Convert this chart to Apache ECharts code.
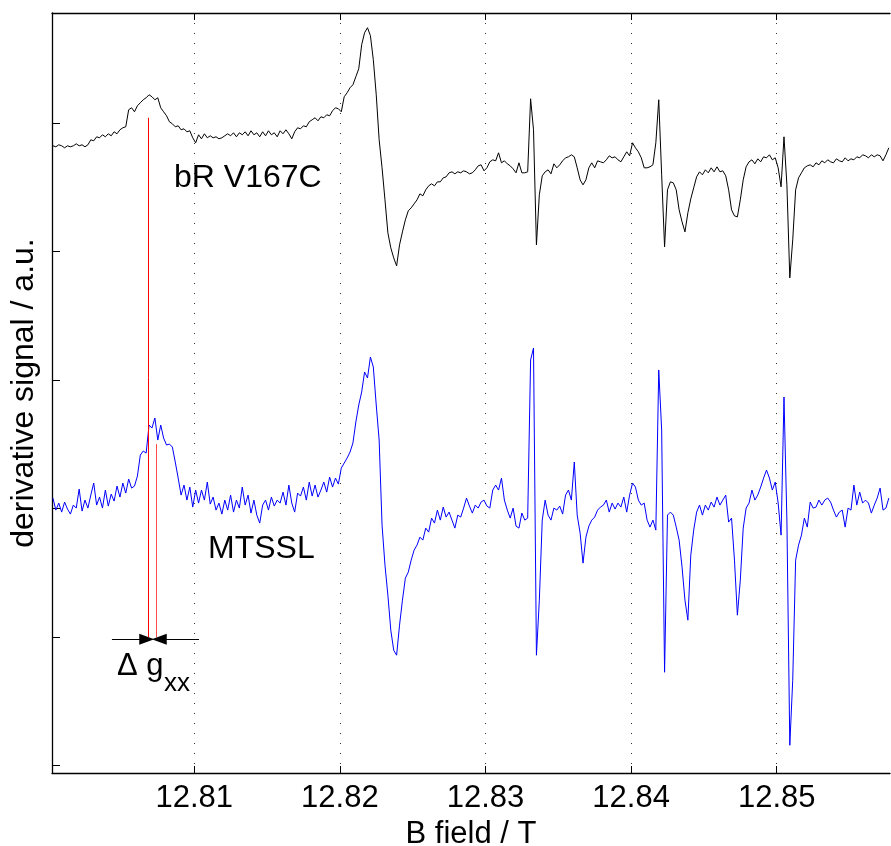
<!DOCTYPE html>
<html>
<head>
<meta charset="utf-8">
<script src="https://cdn.jsdelivr.net/npm/echarts@6/dist/echarts.min.js"></script>
<style>
html,body{margin:0;padding:0;background:#fff;}
#chart{width:891px;height:846px;}
</style>
</head>
<body>
<div id="chart"></div>
<script>
// ---- data (field sweep: start + constant step) ----
const fieldStart = 12.8003;   // T
const fieldStep = 0.0002;     // T per sample
const fieldTicks = [12.81, 12.82, 12.83, 12.84, 12.85];
const signalTicks = [0, 128.3, 256.7, 385, 513.3, 641.7];

const bRV167C = [
619,618,620,619,617,619,618,619,621,619,
620,618,620,625,624,628,627,630,628,631,
629,633,631,635,637,638,655,657,653,659,
662,665,667,670,668,665,667,657,653,649,
643,641,638,639,635,636,633,634,627,622,
630,626,631,627,629,627,628,626,627,629,
631,629,632,628,632,630,633,629,634,630,
632,628,633,629,634,630,632,628,634,631,
635,631,626,633,637,636,639,638,643,645,
647,644,648,647,650,649,654,657,656,653,
668,672,677,680,688,696,720,732,737,729,
705,670,625,597,565,532,517,507,499,520,
533,545,554,557,561,565,571,569,575,579,
581,579,583,583,587,588,592,593,591,593,
592,594,593,591,592,595,599,600,594,597,
603,605,604,612,602,604,601,599,596,592,
602,592,592,593,666,635,520,570,589,593,
595,591,601,597,600,604,607,608,610,608,
597,585,580,585,597,602,597,604,603,602,
605,609,607,608,605,603,608,613,609,622,
617,613,607,597,597,598,600,622,665,590,
518,575,583,582,575,555,543,533,552,566,
577,588,593,590,595,592,597,593,598,593,
594,589,575,555,549,548,565,585,598,603,
605,601,606,603,608,607,610,605,607,597,
578,628,580,487,525,575,587,592,597,599,
600,598,602,600,604,602,605,603,602,606,
604,603,607,604,606,605,608,607,610,609,
607,610,608,610,609,604,610,617
];

const mtssl = [
267,255,262,253,263,256,251,260,257,276,
254,265,257,270,282,260,268,257,275,259,
271,264,279,268,282,272,286,277,279,289,
310,314,312,340,337,347,325,340,327,320,
321,318,303,287,270,280,265,278,258,275,
262,275,265,283,261,268,255,262,251,265,
255,270,253,265,257,278,260,270,252,265,
250,242,260,265,255,268,259,265,262,273,
260,280,262,253,272,269,278,265,283,269,
280,268,275,283,273,288,278,287,281,297,
302,307,313,322,343,360,373,393,387,408,
398,360,325,240,200,170,135,115,110,140,
165,187,193,205,215,220,228,225,237,233,
247,242,255,245,258,248,253,245,237,250,
248,257,267,259,252,260,257,263,265,259,
257,275,280,275,287,265,255,247,257,239,
237,252,245,247,405,417,110,165,245,265,
250,245,257,255,259,251,270,275,265,303,
250,232,202,228,239,245,248,255,258,260,
265,253,262,256,262,258,268,253,270,282,
278,265,260,262,245,238,245,235,395,335,
93,250,253,250,238,225,198,165,145,210,
235,253,260,250,260,255,263,258,268,260,
265,270,243,247,205,150,185,237,257,262,
275,265,270,278,287,295,287,275,283,262,
230,368,245,20,85,205,220,230,247,238,
263,257,258,265,260,265,267,263,255,248,
253,255,238,257,255,280,260,273,262,265,
262,252,260,267,277,255,257,267
];

// g_xx marker positions (field, T) and their vertical extents (signal, a.u.)
const gxxFields = [12.80686, 12.807411];
const gxxTops = [647, 321];
const gxxBottom = 128;
const arrowLevel = 126;
const arrowLeft = [12.80435, 12.80674];
const arrowRight = [12.81033, 12.80760];

const xMin = 12.800235, xMax = 12.85778;
const yMin = -7.7, yMax = 751.7;

const FONT = 'Liberation Sans, Arial, Helvetica, sans-serif';

function toPairs(arr){ return arr.map((v,i)=>[+(fieldStart + i*fieldStep).toFixed(5), v]); }

const chart = echarts.init(document.getElementById('chart'), null, {renderer:'canvas'});
const option = {
  animation:false,
  backgroundColor:'#ffffff',
  grid:{left:52, right:1, top:13, bottom:73, containLabel:false, outerBoundsMode:'none'},
  xAxis:[{
    type:'value', min:xMin, max:xMax, position:'bottom',
    axisLine:{show:true, onZero:false, lineStyle:{color:'#000', width:1.3}},
    axisTick:{show:true, inside:true, length:7, customValues:fieldTicks, lineStyle:{color:'#000', width:1}},
    axisLabel:{show:true, customValues:fieldTicks, formatter:v=>v.toFixed(2), fontSize:31, color:'#000', fontFamily:FONT, margin:10},
    splitLine:{show:true, lineStyle:{type:[1,9], color:'#333', width:1}},
    name:'B field / T', nameLocation:'middle', nameGap:42,
    nameTextStyle:{fontSize:31, color:'#000', fontFamily:FONT}
  },{
    type:'value', min:xMin, max:xMax, position:'top',
    axisLine:{show:true, onZero:false, lineStyle:{color:'#000', width:1.3}},
    axisTick:{show:true, inside:true, length:7, customValues:fieldTicks, lineStyle:{color:'#000', width:1}},
    axisLabel:{show:false}, splitLine:{show:false}
  }],
  yAxis:{
    type:'value', min:yMin, max:yMax,
    axisLine:{show:true, onZero:false, lineStyle:{color:'#000', width:1.3}},
    axisTick:{show:true, inside:true, length:8, customValues:signalTicks, lineStyle:{color:'#000', width:1}},
    axisLabel:{show:false}, splitLine:{show:false},
    name:'derivative signal / a.u.', nameLocation:'middle', nameGap:12, nameRotate:90,
    nameTextStyle:{fontSize:32, color:'#000', fontFamily:FONT}
  },
  series:[
    {name:'bR V167C', type:'line', data:toPairs(bRV167C), showSymbol:false, symbol:'none',
     lineStyle:{color:'#000000', width:1}, itemStyle:{color:'#000'}, sampling:null, z:3},
    {name:'MTSSL', type:'line', data:toPairs(mtssl), showSymbol:false, symbol:'none',
     lineStyle:{color:'#0000ff', width:1}, itemStyle:{color:'#00f'}, z:3},
    {name:'gxx', type:'line', data:[], z:4,
     markLine:{silent:true, animation:false, label:{show:false}, symbol:['none','none'],
       lineStyle:{color:'#ff0000', width:1, type:'solid', opacity:1},
       data:[
         [{coord:[gxxFields[0], gxxTops[0]], lineStyle:{color:'#ff0000'}},{coord:[gxxFields[0], gxxBottom], lineStyle:{color:'#ff0000'}}],
         [{coord:[gxxFields[1], gxxTops[1]], lineStyle:{color:'#ff4a4a'}},{coord:[gxxFields[1], gxxBottom], lineStyle:{color:'#ff4a4a'}}]
       ]}
    },
    {name:'arrows', type:'line', data:[], z:5,
     markLine:{silent:true, animation:false, label:{show:false}, symbol:['none','triangle'], symbolSize:[11,15],
       lineStyle:{color:'#000', width:1.2, type:'solid'}, itemStyle:{color:'#000'},
       data:[
         [{coord:[arrowLeft[0], arrowLevel]},{coord:[arrowLeft[1], arrowLevel]}],
         [{coord:[arrowRight[0], arrowLevel]},{coord:[arrowRight[1], arrowLevel]}]
       ]}
    }
  ],
  graphic:[
    {type:'text', x:174, y:178, style:{text:'bR V167C', font:'32px '+FONT, fill:'#000', verticalAlign:'middle', align:'left'}, z:10},
    {type:'text', x:208, y:549, style:{text:'MTSSL', font:'32px '+FONT, fill:'#000', verticalAlign:'middle', align:'left'}, z:10},
    {type:'text', x:117, y:666, style:{text:'\u0394 g', font:'31px '+FONT, fill:'#000', verticalAlign:'middle', align:'left'}, z:10},
    {type:'text', x:164, y:684, style:{text:'xx', font:'26px '+FONT, fill:'#000', verticalAlign:'middle', align:'left'}, z:10}
  ]
};
chart.setOption(option);
</script>
</body>
</html>
